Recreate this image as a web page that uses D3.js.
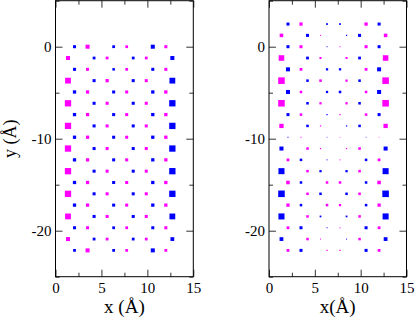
<!DOCTYPE html>
<html>

<head>
    <meta charset="UTF-8" />
    <title>spin density</title>
    <style>
        body {
            margin: 0;
            padding: 0;
            background: #fff;
        }

        svg {
            display: block;
            font-family: 'Liberation Serif', 'Times New Roman', serif;
        }
    </style>
</head>

<body>
    <div class="container"></div>

    <script src="https://cdnjs.cloudflare.com/ajax/libs/d3/7.8.5/d3.min.js"></script>
    <script>
        // atom x positions (Å) for the two kinds of rows
        const xA = [2.07, 3.49, 6.33, 7.75, 10.59, 12.01];
        const xB = [1.36, 4.20, 5.62, 8.46, 9.88, 12.72];

        // row y positions (Å), top to bottom, first row is an "A" row
        const rowsY = [2.46, 1.23, 0, -1.23, -2.46, -3.69, -4.92, -6.15, -7.38, -8.61, -9.84,
            -11.07, -12.30, -13.53, -14.76, -15.99, -17.22, -18.45, -19.68, -20.91, -22.14];

        // signed moments, one row per lattice row (+ magenta, - blue)
        const leftMoments = [
            [-0.12, 0.16, -0.11, 0.11, -0.16, 0.12],
            [0.16, -0.11, 0.11, -0.11, 0.11, -0.16],
            [-0.12, 0.12, -0.10, 0.11, -0.12, 0.12],
            [0.23, -0.12, 0.13, -0.12, 0.12, -0.23],
            [-0.13, 0.13, -0.12, 0.12, -0.13, 0.13],
            [0.25, -0.12, 0.12, -0.12, 0.12, -0.25],
            [-0.13, 0.13, -0.12, 0.12, -0.13, 0.13],
            [0.25, -0.12, 0.12, -0.12, 0.12, -0.25],
            [-0.13, 0.13, -0.12, 0.12, -0.13, 0.13],
            [0.25, -0.12, 0.12, -0.12, 0.12, -0.25],
            [-0.13, 0.13, -0.12, 0.12, -0.13, 0.13],
            [0.25, -0.12, 0.12, -0.12, 0.12, -0.25],
            [-0.13, 0.13, -0.12, 0.12, -0.13, 0.13],
            [0.25, -0.12, 0.12, -0.12, 0.12, -0.25],
            [-0.13, 0.13, -0.12, 0.12, -0.13, 0.13],
            [0.23, -0.12, 0.12, -0.12, 0.12, -0.23],
            [-0.12, 0.12, -0.11, 0.11, -0.12, 0.12],
            [0.16, -0.11, 0.11, -0.11, 0.11, -0.15],
            [-0.11, 0.16, -0.11, 0.11, -0.16, 0.11]
        ];

        const rightMoments = [
            [-0.12, 0.13, -0.07, -0.07, 0.13, -0.12],
            [0.14, -0.12, 0.04, -0.05, -0.12, 0.14],
            [-0.12, 0.12, -0.04, 0.04, 0.12, -0.12],
            [0.22, -0.11, 0.08, 0.08, -0.11, 0.22],
            [-0.16, 0.11, -0.09, -0.09, 0.11, -0.16],
            [0.26, -0.10, 0.10, 0.09, -0.10, 0.26],
            [-0.16, 0.10, -0.09, -0.10, 0.10, -0.16],
            [0.26, -0.10, 0.09, 0.09, -0.10, 0.26],
            [-0.12, 0.10, -0.05, 0.05, 0.10, -0.12],
            [0.17, -0.10, 0.05, -0.05, -0.10, 0.17],
            [-0.04, 0.04, -0.03, 0.03, -0.03, 0.03],
            [-0.16, 0.10, 0.05, 0.05, 0.10, -0.16],
            [0.11, -0.10, -0.04, 0.04, -0.10, 0.11],
            [-0.24, 0.10, -0.09, -0.09, 0.10, -0.24],
            [0.14, -0.10, 0.10, 0.10, -0.10, 0.14],
            [-0.26, 0.10, -0.10, -0.10, 0.10, -0.26],
            [0.13, -0.10, 0.10, 0.09, -0.10, 0.13],
            [-0.24, 0.10, -0.07, -0.07, 0.10, -0.24],
            [0.11, -0.12, -0.04, 0.04, -0.12, 0.11],
            [-0.15, 0.10, 0.04, -0.04, 0.10, -0.15],
            [0.11, -0.12, 0.05, 0.05, -0.12, 0.11]
        ];

        const xTicks = [0, 5, 10, 15];
        const xMinor = [2.5, 7.5, 12.5];
        const yTicks = [-20, -10, 0];
        const yMinor = [-25, -15, -5, 5];

        const width = 415, height = 319;
        const plotTop = 0.7, plotBottom = 276.7;

        const svg = d3.select('.container').append('svg')
            .attr('width', width)
            .attr('height', height);

        const y = d3.scaleLinear().domain([-25, 5]).range([plotBottom, plotTop]);
        const size = d3.scaleLinear().domain([0, 0.25]).range([0, 6.3]);

        // flatten a moment table into points
        const toPoints = (moments, firstRow) => moments.flatMap((row, i) => {
            const r = i + firstRow;
            const xs = r % 2 === 0 ? xA : xB;
            return row.map((m, j) => ({ x: xs[j], y: rowsY[r], m }));
        });

        function drawPanel(x0, x1, points, xTitle, showYTitle) {
            const x = d3.scaleLinear().domain([0, 15]).range([x0, x1]);
            const g = svg.append('g');

            g.selectAll('rect.atom')
                .data(points)
                .join('rect')
                .attr('class', 'atom')
                .attr('x', d => x(d.x) - size(Math.abs(d.m)) / 2)
                .attr('y', d => y(d.y) - size(Math.abs(d.m)) / 2)
                .attr('width', d => size(Math.abs(d.m)))
                .attr('height', d => size(Math.abs(d.m)))
                .attr('fill', d => d.m > 0 ? '#ff00ff' : '#0000ff');

            const fmt = d => String(d);

            const axes = [
                [d3.axisBottom(x).tickValues(xTicks).tickFormat(fmt).tickSize(-7).tickPadding(5.5), `translate(0,${plotBottom})`],
                [d3.axisBottom(x).tickValues(xMinor).tickFormat('').tickSize(-4), `translate(0,${plotBottom})`],
                [d3.axisTop(x).tickValues(xTicks).tickFormat('').tickSize(-7), `translate(0,${plotTop})`],
                [d3.axisTop(x).tickValues(xMinor).tickFormat('').tickSize(-4), `translate(0,${plotTop})`],
                [d3.axisLeft(y).tickValues(yTicks).tickFormat(fmt).tickSize(-7).tickPadding(4), `translate(${x0},0)`],
                [d3.axisLeft(y).tickValues(yMinor).tickFormat('').tickSize(-4), `translate(${x0},0)`],
                [d3.axisRight(y).tickValues(yTicks).tickFormat('').tickSize(-7), `translate(${x1},0)`],
                [d3.axisRight(y).tickValues(yMinor).tickFormat('').tickSize(-4), `translate(${x1},0)`]
            ];

            for (const [axis, tr] of axes) {
                const a = g.append('g').attr('transform', tr).call(axis.tickSizeOuter(0));
                a.select('.domain').remove();
                a.selectAll('line').attr('stroke', '#333');
                a.selectAll('text')
                    .attr('font-family', "'Liberation Serif', 'Times New Roman', serif")
                    .attr('font-size', 15)
                    .attr('fill', '#000');
            }

            g.append('rect')
                .attr('x', x0).attr('y', plotTop)
                .attr('width', x1 - x0).attr('height', plotBottom - plotTop)
                .attr('fill', 'none').attr('stroke', '#000').attr('stroke-width', 1);

            g.append('text')
                .attr('x', (x0 + x1) / 2).attr('y', 313)
                .attr('text-anchor', 'middle')
                .attr('font-size', 19)
                .text(xTitle);

            if (showYTitle) {
                g.append('text')
                    .attr('transform', `translate(16,${(plotTop + plotBottom) / 2}) rotate(-90)`)
                    .attr('text-anchor', 'middle')
                    .attr('font-size', 18)
                    .text('y (Å)');
            }
        }

        drawPanel(55.5, 193.3, toPoints(leftMoments, 2), 'x (Å)', true);
        drawPanel(269, 406.5, toPoints(rightMoments, 0), 'x(Å)', false);
    </script>
</body>

</html>
